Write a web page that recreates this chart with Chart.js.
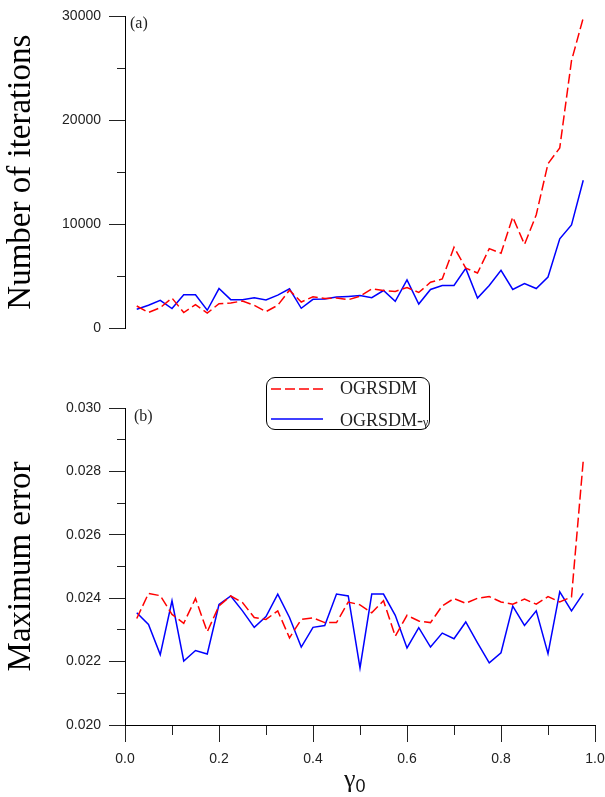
<!DOCTYPE html>
<html>
<head>
<meta charset="utf-8">
<script src="https://cdn.jsdelivr.net/npm/chart.js@4"></script>
<style>
  body { margin: 0; background: #fff; width: 605px; height: 797px; position: relative; overflow: hidden; }
  canvas { position: absolute; left: 0; }
  #c-iter { top: 0; }
  #c-err { top: 350px; }
  .tag { position: absolute; font-family: "Liberation Serif", serif; font-size: 16px; line-height: 16px; color: #222; }
  #legend { position: absolute; left: 266px; top: 377px; width: 164px; height: 53px; box-sizing: border-box;
            border: 1px solid #000; border-radius: 9px; background: #fff; }
  #legend svg { position: absolute; left: 4px; }
  #legend span.txt { position: absolute; left: 73px; font-family: "Liberation Serif", serif; font-size: 18px; line-height: 18px; color: #222; white-space: nowrap; }
  #xtitle { position: absolute; left: 344px; top: 766px; font-family: "Liberation Serif", serif; font-size: 26px; line-height: 26px; color: #111; }
  #xtitle sub { font-family: "Liberation Sans", sans-serif; font-size: 18px; vertical-align: -5px; }
</style>
</head>
<body>
<canvas id="c-iter" width="605" height="350"></canvas>
<canvas id="c-err" width="605" height="447"></canvas>

<div class="tag" style="left:130px; top:15px;">(a)</div>
<div class="tag" style="left:134px; top:408px;">(b)</div>

<div id="legend">
  <svg width="54" height="6" style="top:8px"><line x1="0" y1="3" x2="52" y2="3" stroke="#ff0000" stroke-width="1.5" stroke-dasharray="10,4"/></svg>
  <span class="txt" style="top:1px">OGRSDM</span>
  <svg width="54" height="6" style="top:38px"><line x1="0" y1="3" x2="52" y2="3" stroke="#0000ff" stroke-width="1.5"/></svg>
  <span class="txt" style="top:33px">OGRSDM-<span style="font-size:12px">γ</span></span>
</div>

<div id="xtitle">γ<sub>0</sub></div>

<script>
// gamma_0 values (x)
const gammas = [0.025, 0.05, 0.075, 0.1, 0.125, 0.15, 0.175, 0.2, 0.225, 0.25,
  0.275, 0.3, 0.325, 0.35, 0.375, 0.4, 0.425, 0.45, 0.475, 0.5,
  0.525, 0.55, 0.575, 0.6, 0.625, 0.65, 0.675, 0.7, 0.725, 0.75,
  0.775, 0.8, 0.825, 0.85, 0.875, 0.9, 0.925, 0.95, 0.975];

// (a) number of iterations
const iterOGRSDM = [2120, 1490, 1960, 2880, 1490, 2250, 1430, 2340, 2410, 2600,
  2190, 1580, 2190, 3640, 2500, 3010, 2850, 2880, 2720, 3070,
  3770, 3610, 3520, 3900, 3420, 4400, 4720, 7770, 5770, 5290,
  7640, 7200, 10680, 8050, 10900, 15820, 17340, 25740, 29860];
const iterGamma = [1810, 2190, 2660, 1870, 3200, 3200, 1710, 3800, 2730, 2730,
  2920, 2690, 3170, 3770, 1900, 2760, 2790, 2980, 3040, 3120,
  2920, 3610, 2570, 4630, 2310, 3710, 4090, 4090, 5740, 2880,
  4090, 5550, 3710, 4280, 3800, 4910, 8590, 9920, 14230];

// (b) maximum error
const errOGRSDM = [0.02336, 0.02415, 0.02408, 0.02349, 0.02321, 0.02399, 0.02294, 0.02376, 0.02407, 0.02386,
  0.02339, 0.02333, 0.02360, 0.02275, 0.02333, 0.02338, 0.02323, 0.02323, 0.02388, 0.02379,
  0.02354, 0.02392, 0.02280, 0.02346, 0.02328, 0.02323, 0.02376, 0.02399, 0.02384, 0.02400,
  0.02405, 0.02388, 0.02381, 0.02397, 0.02381, 0.02405, 0.02388, 0.02404, 0.02834];
const errGamma = [0.02354, 0.02317, 0.02222, 0.02392, 0.02202, 0.02235, 0.02224, 0.02380, 0.02407, 0.02360,
  0.02308, 0.02342, 0.02413, 0.02339, 0.02246, 0.02308, 0.02314, 0.02413, 0.02407, 0.02180,
  0.02413, 0.02413, 0.02346, 0.02243, 0.02307, 0.02246, 0.02290, 0.02272, 0.02325, 0.02259,
  0.02196, 0.02228, 0.02375, 0.02314, 0.02360, 0.02225, 0.02420, 0.02360, 0.02415];

const xTicks = [0, 0.2, 0.4, 0.6, 0.8, 1.0];

const RED = '#ff0000';
const BLUE = '#0000ff';
const tickFont = { family: '"Liberation Sans", Arial, sans-serif', size: 14 };
const titleFont = { family: '"Liberation Serif", "Times New Roman", serif', size: 33 };

function series(ys) {
  return ys.map((y, i) => ({ x: gammas[i], y: y }));
}

function datasets(red, blue) {
  return [
    { label: 'OGRSDM', data: series(red), borderColor: RED, borderWidth: 1.5,
      borderDash: [10, 4], pointRadius: 0, tension: 0, fill: false },
    { label: 'OGRSDM-γ', data: series(blue), borderColor: BLUE, borderWidth: 1.5,
      pointRadius: 0, tension: 0, fill: false }
  ];
}

// left axis: long ticks on labelled values, short ones in between
function yAxis(min, max, step, isMajor, fmt, title) {
  return {
    min: min, max: max,
    afterFit: s => { s.width = 125; },
    border: { display: true, color: '#000', width: 1 },
    grid: {
      drawOnChartArea: false, drawTicks: true, tickLength: 16, tickColor: '#222', tickWidth: 1,
      tickBorderDash: ctx => isMajor(ctx.tick.value) ? [] : [0, 8, 8, 100]
    },
    ticks: {
      stepSize: step, padding: 8, color: '#222', font: tickFont, autoSkip: false,
      callback: v => isMajor(v) ? fmt(v) : ''
    },
    title: { display: true, text: title, color: '#000', font: titleFont, padding: { top: 2, bottom: 0 } }
  };
}

const baseOpts = {
  responsive: false,
  animation: false,
  plugins: { legend: { display: false }, tooltip: { enabled: false } }
};

// (a) iterations
new Chart(document.getElementById('c-iter'), {
  type: 'line',
  data: { datasets: datasets(iterOGRSDM, iterGamma) },
  options: {
    ...baseOpts,
    layout: { padding: { top: 14, right: 10, bottom: 22, left: 0 } },
    scales: {
      x: { type: 'linear', min: 0, max: 1, display: false },
      y: yAxis(0, 30000, 5000, v => Math.round(v) % 10000 === 0, v => String(v), 'Number of iterations')
    }
  }
});

// (b) maximum error
new Chart(document.getElementById('c-err'), {
  type: 'line',
  data: { datasets: datasets(errOGRSDM, errGamma) },
  options: {
    ...baseOpts,
    layout: { padding: { top: 58, right: 10, bottom: 0, left: 0 } },
    scales: {
      x: {
        type: 'linear', min: 0, max: 1,
        // fixed height; let the "1.0" label run into the right margin
        afterFit: s => { s.height = 72; s.paddingRight = 0; s.paddingLeft = 0; },
        border: { display: true, color: '#000', width: 1 },
        grid: {
          drawOnChartArea: false, drawTicks: true, tickLength: 17, tickColor: '#222', tickWidth: 1,
          tickBorderDash: ctx => xTicks.some(t => Math.abs(t - ctx.tick.value) < 1e-6) ? [] : [9, 100]
        },
        ticks: {
          stepSize: 0.1, padding: 9, color: '#222', font: tickFont, autoSkip: false, maxRotation: 0,
          callback: v => xTicks.some(t => Math.abs(t - v) < 1e-6) ? v.toFixed(1) : ''
        }
      },
      y: yAxis(0.020, 0.030, 0.001, v => Math.round(v * 1000) % 2 === 0, v => v.toFixed(3), 'Maximum error')
    }
  }
});
</script>
</body>
</html>
